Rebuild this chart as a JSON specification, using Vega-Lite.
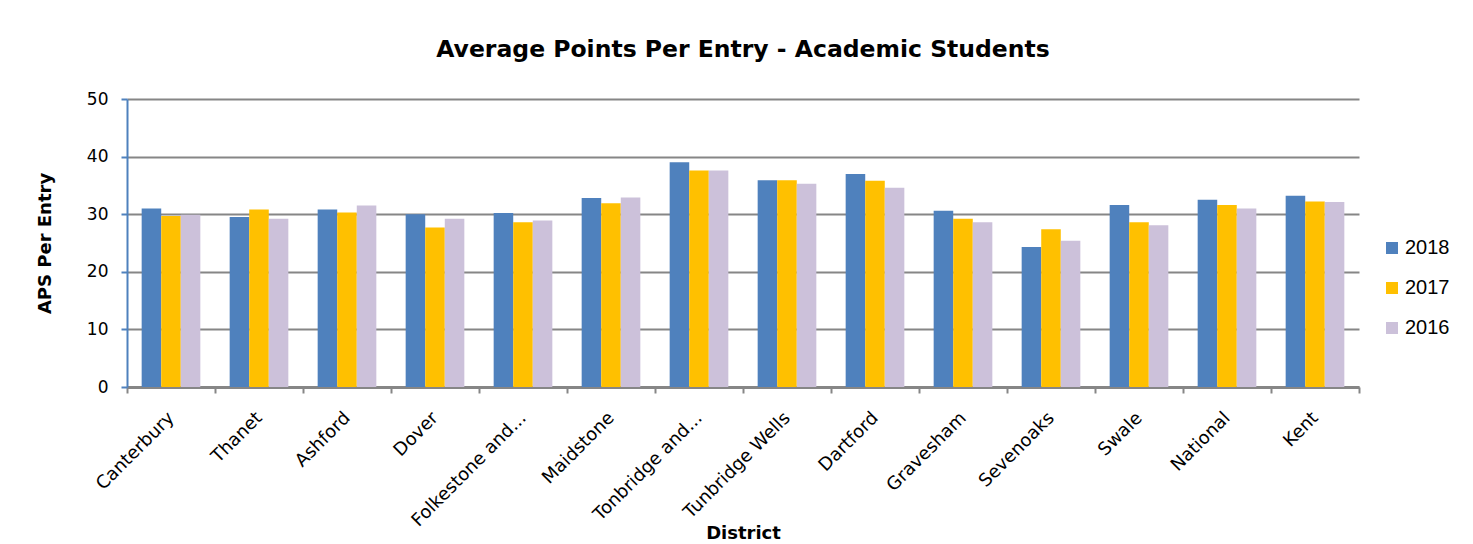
{
  "$schema": "https://vega.github.io/schema/vega-lite/v6.json",
  "width": 1232,
  "height": 288,
  "autosize": {"type": "none"},
  "padding": {"left": 127, "top": 99, "right": 114, "bottom": 157},
  "background": "white",
  "title": {
    "text": "Average Points Per Entry - Academic Students",
    "font": "DejaVu Sans",
    "fontSize": 23.5,
    "fontWeight": "bold",
    "color": "#000000",
    "anchor": "middle",
    "offset": 29
  },
  "data": {
    "values": [
      {"District": "Canterbury", "Year": "2018", "APS": 31.0},
      {"District": "Canterbury", "Year": "2017", "APS": 29.7},
      {"District": "Canterbury", "Year": "2016", "APS": 29.9},
      {"District": "Thanet", "Year": "2018", "APS": 29.5},
      {"District": "Thanet", "Year": "2017", "APS": 30.8},
      {"District": "Thanet", "Year": "2016", "APS": 29.2},
      {"District": "Ashford", "Year": "2018", "APS": 30.8},
      {"District": "Ashford", "Year": "2017", "APS": 30.3},
      {"District": "Ashford", "Year": "2016", "APS": 31.5},
      {"District": "Dover", "Year": "2018", "APS": 30.0},
      {"District": "Dover", "Year": "2017", "APS": 27.7},
      {"District": "Dover", "Year": "2016", "APS": 29.2},
      {"District": "Folkestone and...", "Year": "2018", "APS": 30.2},
      {"District": "Folkestone and...", "Year": "2017", "APS": 28.6},
      {"District": "Folkestone and...", "Year": "2016", "APS": 28.9},
      {"District": "Maidstone", "Year": "2018", "APS": 32.8},
      {"District": "Maidstone", "Year": "2017", "APS": 31.9},
      {"District": "Maidstone", "Year": "2016", "APS": 32.9},
      {"District": "Tonbridge and...", "Year": "2018", "APS": 39.0},
      {"District": "Tonbridge and...", "Year": "2017", "APS": 37.6},
      {"District": "Tonbridge and...", "Year": "2016", "APS": 37.6},
      {"District": "Tunbridge Wells", "Year": "2018", "APS": 35.9},
      {"District": "Tunbridge Wells", "Year": "2017", "APS": 35.9},
      {"District": "Tunbridge Wells", "Year": "2016", "APS": 35.3},
      {"District": "Dartford", "Year": "2018", "APS": 37.0},
      {"District": "Dartford", "Year": "2017", "APS": 35.8},
      {"District": "Dartford", "Year": "2016", "APS": 34.6},
      {"District": "Gravesham", "Year": "2018", "APS": 30.6},
      {"District": "Gravesham", "Year": "2017", "APS": 29.2},
      {"District": "Gravesham", "Year": "2016", "APS": 28.6},
      {"District": "Sevenoaks", "Year": "2018", "APS": 24.3},
      {"District": "Sevenoaks", "Year": "2017", "APS": 27.4},
      {"District": "Sevenoaks", "Year": "2016", "APS": 25.4},
      {"District": "Swale", "Year": "2018", "APS": 31.6},
      {"District": "Swale", "Year": "2017", "APS": 28.6},
      {"District": "Swale", "Year": "2016", "APS": 28.1},
      {"District": "National", "Year": "2018", "APS": 32.5},
      {"District": "National", "Year": "2017", "APS": 31.6},
      {"District": "National", "Year": "2016", "APS": 31.0},
      {"District": "Kent", "Year": "2018", "APS": 33.2},
      {"District": "Kent", "Year": "2017", "APS": 32.2},
      {"District": "Kent", "Year": "2016", "APS": 32.1}
    ]
  },
  "mark": {"type": "bar"},
  "encoding": {
    "x": {
      "field": "District",
      "type": "nominal",
      "sort": null,
      "scale": {"paddingInner": 0, "paddingOuter": 0},
      "axis": {
        "title": "District",
        "titleFont": "DejaVu Sans",
        "titleFontSize": 18,
        "titleFontWeight": "bold",
        "titleColor": "#000000",
        "titlePadding": -5,
        "labelFont": "DejaVu Sans",
        "labelFontSize": 18,
        "labelColor": "#000000",
        "labelAngle": -45,
        "labelAlign": "right",
        "labelBaseline": "middle",
        "labelPadding": 22,
        "tickBand": "extent",
        "domainColor": "#868686",
        "domainWidth": 3,
        "tickColor": "#868686",
        "tickWidth": 2,
        "tickSize": 6,
        "grid": false,
        "labelLimit": 400
      }
    },
    "xOffset": {
      "field": "Year",
      "type": "nominal",
      "sort": ["2018", "2017", "2016"],
      "scale": {"paddingInner": 0, "paddingOuter": 0.75}
    },
    "y": {
      "field": "APS",
      "type": "quantitative",
      "scale": {"domain": [0, 50], "nice": false},
      "axis": {
        "title": "APS Per Entry",
        "titleFont": "DejaVu Sans",
        "titleFontSize": 18,
        "titleFontWeight": "bold",
        "titleColor": "#000000",
        "titlePadding": 32,
        "values": [0, 10, 20, 30, 40, 50],
        "labelFont": "DejaVu Sans",
        "labelFontSize": 17,
        "labelColor": "#000000",
        "labelPadding": 13,
        "domainColor": "#4F81BD",
        "domainWidth": 2,
        "tickColor": "#4F81BD",
        "tickWidth": 2,
        "tickSize": 6,
        "grid": true,
        "gridColor": "#868686",
        "gridWidth": 2
      }
    },
    "color": {
      "field": "Year",
      "type": "nominal",
      "sort": ["2018", "2017", "2016"],
      "scale": {"domain": ["2018", "2017", "2016"], "range": ["#4F81BD", "#FFC000", "#CCC1DA"]},
      "legend": {
        "title": null,
        "orient": "none",
        "legendX": 1255,
        "legendY": 139,
        "symbolType": "square",
        "symbolSize": 144,
        "symbolStrokeWidth": 0,
        "labelFont": "Liberation Sans",
        "labelFontSize": 20,
        "labelColor": "#000000",
        "labelOffset": 3,
        "rowPadding": 20
      }
    }
  },
  "config": {
    "view": {"stroke": null},
    "axis": {"domainCap": "butt"}
  }
}
